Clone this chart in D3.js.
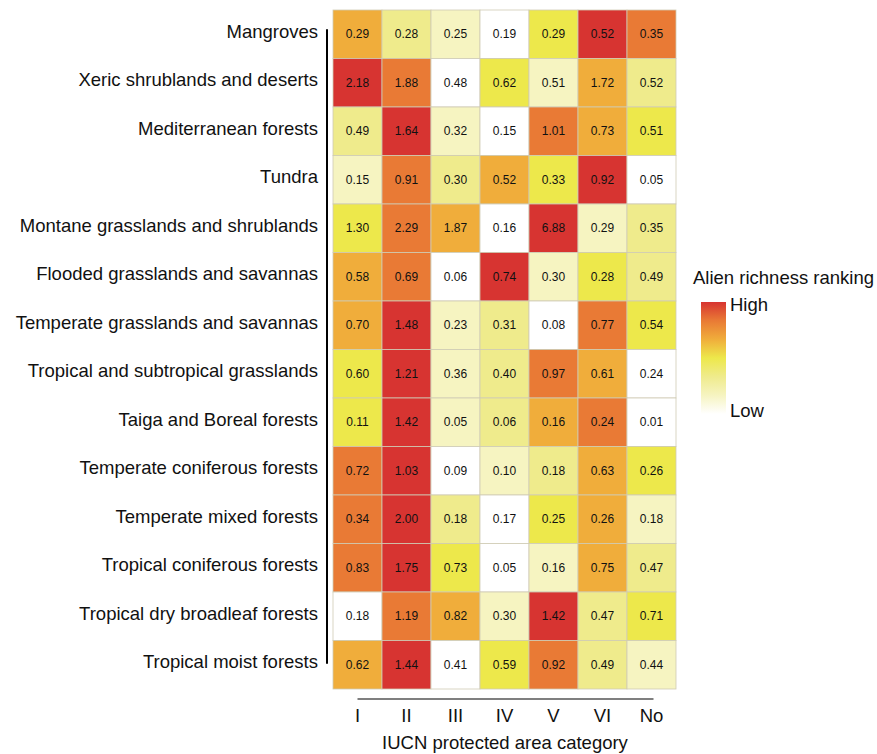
<!DOCTYPE html>
<html lang="en">
  <head>
    <meta charset="utf-8">
    <title>Alien richness by biome and IUCN category</title>
    <script src="https://d3js.org/d3.v7.min.js"></script>
    <style type="text/css">
      body,html{
        margin: 0;
        padding: 0;
        background: #fff;
        font-family: "Liberation Sans", Arial, sans-serif;
      }
      .cell text{ font-size: 12px; fill: #111; }
      .lab{ font-size: 18.5px; fill: #111; }
    </style>
  </head>
  <body>
    <script type="text/javascript">

      var w = 877;
      var h = 754;

      var biomes = [
        "Mangroves",
        "Xeric shrublands and deserts",
        "Mediterranean forests",
        "Tundra",
        "Montane grasslands and shrublands",
        "Flooded grasslands and savannas",
        "Temperate grasslands and savannas",
        "Tropical and subtropical grasslands",
        "Taiga and Boreal forests",
        "Temperate coniferous forests",
        "Temperate mixed forests",
        "Tropical coniferous forests",
        "Tropical dry broadleaf forests",
        "Tropical moist forests"
      ]

      var categories = ["I", "II", "III", "IV", "V", "VI", "No"]

      // printed values, one row per biome
      var values = [
        [0.29, 0.28, 0.25, 0.19, 0.29, 0.52, 0.35],
        [2.18, 1.88, 0.48, 0.62, 0.51, 1.72, 0.52],
        [0.49, 1.64, 0.32, 0.15, 1.01, 0.73, 0.51],
        [0.15, 0.91, 0.30, 0.52, 0.33, 0.92, 0.05],
        [1.30, 2.29, 1.87, 0.16, 6.88, 0.29, 0.35],
        [0.58, 0.69, 0.06, 0.74, 0.30, 0.28, 0.49],
        [0.70, 1.48, 0.23, 0.31, 0.08, 0.77, 0.54],
        [0.60, 1.21, 0.36, 0.40, 0.97, 0.61, 0.24],
        [0.11, 1.42, 0.05, 0.06, 0.16, 0.24, 0.01],
        [0.72, 1.03, 0.09, 0.10, 0.18, 0.63, 0.26],
        [0.34, 2.00, 0.18, 0.17, 0.25, 0.26, 0.18],
        [0.83, 1.75, 0.73, 0.05, 0.16, 0.75, 0.47],
        [0.18, 1.19, 0.82, 0.30, 1.42, 0.47, 0.71],
        [0.62, 1.44, 0.41, 0.59, 0.92, 0.49, 0.44]
      ]

      // richness ranking within each row (1 = low, 7 = high), as coloured
      var ranks = [
        [5, 3, 2, 1, 4, 7, 6],
        [7, 6, 1, 4, 2, 5, 3],
        [3, 7, 2, 1, 6, 5, 4],
        [2, 6, 3, 5, 4, 7, 1],
        [4, 6, 5, 1, 7, 2, 3],
        [5, 6, 1, 7, 2, 4, 3],
        [5, 7, 2, 3, 1, 6, 4],
        [4, 7, 2, 3, 6, 5, 1],
        [4, 7, 2, 3, 5, 6, 1],
        [6, 7, 1, 2, 3, 5, 4],
        [6, 7, 3, 1, 4, 5, 2],
        [6, 7, 4, 1, 2, 5, 3],
        [1, 6, 5, 2, 7, 3, 4],
        [5, 7, 1, 4, 6, 3, 2]
      ]

      var colors = ["#ffffff", "#f6f4c1", "#efeb8c", "#ede84b", "#f0ad3b", "#e97a35", "#d73431"]

      var svg = d3.select("body")
        .append("svg")
        .attr("width", w)
        .attr("height", h)

      var x = d3.scaleBand()
        .domain(categories)
        .range([333, 676])

      var y = d3.scaleBand()
        .domain(biomes)
        .range([10, 689])

      var color = d3.scaleOrdinal()
        .domain(d3.range(1, 8))
        .range(colors)

      var cells = []
      biomes.forEach(function(b, i){
        categories.forEach(function(c, j){
          cells.push({biome: b, cat: c, value: values[i][j], rank: ranks[i][j]})
        })
      })

      var g = svg.selectAll("g.cell")
        .data(cells)
        .enter()
        .append("g")
        .attr("class", "cell")
        .attr("transform", function(d){ return "translate(" + x(d.cat) + "," + y(d.biome) + ")"; })

      g.append("rect")
        .attr("width", x.bandwidth())
        .attr("height", y.bandwidth())
        .style("fill", function(d){ return color(d.rank); })
        .style("stroke", "#cfcbb4")
        .style("stroke-width", 0.8)

      g.append("text")
        .attr("x", x.bandwidth() / 2)
        .attr("y", y.bandwidth() / 2)
        .attr("dy", ".35em")
        .attr("text-anchor", "middle")
        .text(function(d){ return d3.format(".2f")(d.value); })

      // y labels, range-frame axis line
      var yOff = -3
      svg.append("line")
        .attr("x1", 327).attr("x2", 327)
        .attr("y1", y(biomes[0]) + y.bandwidth() / 2 + yOff - 2)
        .attr("y2", y(biomes[biomes.length - 1]) + y.bandwidth() / 2 + yOff + 2)
        .style("stroke", "#000")
        .style("stroke-width", 2)

      svg.selectAll("text.ylab")
        .data(biomes)
        .enter()
        .append("text")
        .attr("class", "lab ylab")
        .attr("x", 318)
        .attr("y", function(d){ return y(d) + y.bandwidth() / 2 + yOff; })
        .attr("dy", ".35em")
        .attr("text-anchor", "end")
        .text(function(d){ return d; })

      // x labels
      svg.append("line")
        .attr("x1", x(categories[0]) + x.bandwidth() / 2)
        .attr("x2", x(categories[categories.length - 1]) + x.bandwidth() / 2 + 2)
        .attr("y1", 699).attr("y2", 699)
        .style("stroke", "#000")
        .style("stroke-width", 1.2)

      svg.selectAll("text.xlab")
        .data(categories)
        .enter()
        .append("text")
        .attr("class", "lab xlab")
        .attr("x", function(d){ return x(d) + x.bandwidth() / 2; })
        .attr("y", 716)
        .attr("dy", ".35em")
        .attr("text-anchor", "middle")
        .text(function(d){ return d; })

      svg.append("text")
        .attr("class", "lab")
        .attr("x", 505)
        .attr("y", 743)
        .attr("dy", ".35em")
        .attr("text-anchor", "middle")
        .text("IUCN protected area category")

      // legend
      var grad = svg.append("defs")
        .append("linearGradient")
        .attr("id", "legGrad")
        .attr("x1", 0).attr("y1", 1)
        .attr("x2", 0).attr("y2", 0)

      grad.selectAll("stop")
        .data(colors)
        .enter()
        .append("stop")
        .attr("offset", function(d, i){ return (i / (colors.length - 1) * 100) + "%"; })
        .attr("stop-color", function(d){ return d; })

      svg.append("text")
        .attr("class", "lab")
        .attr("x", 693)
        .attr("y", 278)
        .attr("dy", ".35em")
        .text("Alien richness ranking")

      svg.append("rect")
        .attr("x", 701)
        .attr("y", 302)
        .attr("width", 25)
        .attr("height", 112)
        .style("fill", "url(#legGrad)")

      svg.append("text")
        .attr("class", "lab")
        .attr("x", 730)
        .attr("y", 305)
        .attr("dy", ".35em")
        .text("High")

      svg.append("text")
        .attr("class", "lab")
        .attr("x", 730)
        .attr("y", 411)
        .attr("dy", ".35em")
        .text("Low")

    </script>
  </body>
</html>
